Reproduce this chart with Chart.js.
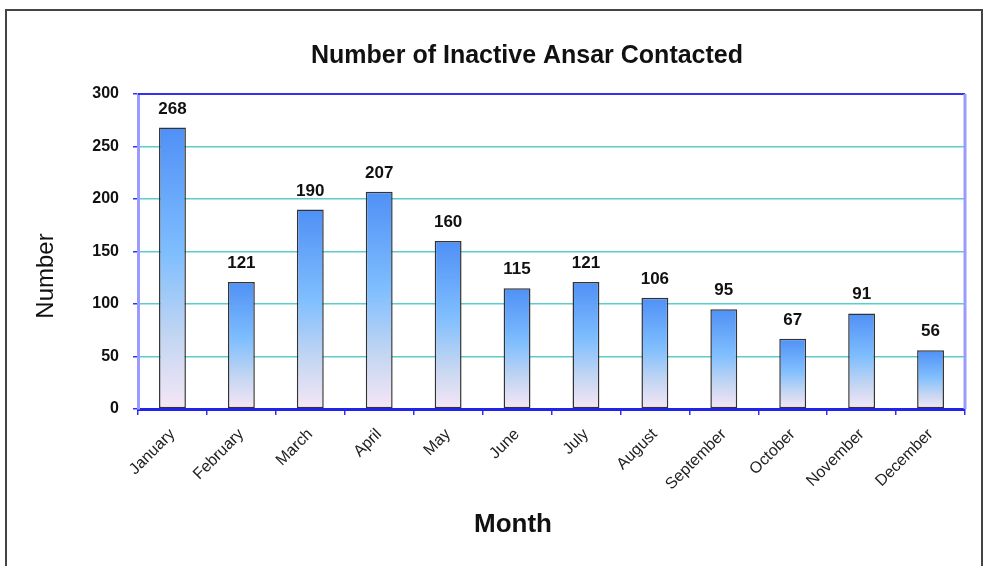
<!DOCTYPE html>
<html>
<head>
<meta charset="utf-8">
<script src="https://cdn.jsdelivr.net/npm/chart.js@4/dist/chart.umd.min.js"></script>
<style>
  html, body { margin: 0; padding: 0; background: #fff; }
  #wrap { width: 987px; height: 566px; }
</style>
</head>
<body>
<div id="wrap"><canvas id="chart" width="987" height="566"></canvas></div>
<script>
const months = ['January', 'February', 'March', 'April', 'May', 'June', 'July',
  'August', 'September', 'October', 'November', 'December'];
const contacted = [268, 121, 190, 207, 160, 115, 121, 106, 95, 67, 91, 56];
const yTicks = [0, 50, 100, 150, 200, 250, 300];

const chartTitle = 'Number of Inactive Ansar Contacted';
const xTitle = 'Month';
const yTitle = 'Number';

const FONT = 'Arial, "Liberation Sans", sans-serif';

// gradient du haut de la barre vers l'axe
function barGradient(context) {
  const chart = context.chart;
  const area = chart.chartArea;
  if (!area) return '#5599ff';
  const y = chart.scales.y;
  const top = y.getPixelForValue(context.raw || 0);
  const bottom = y.getPixelForValue(0);
  const g = chart.ctx.createLinearGradient(0, top, 0, bottom);
  g.addColorStop(0, '#4f90f6');
  g.addColorStop(0.45, '#7fbefe');
  g.addColorStop(0.75, '#c4d6f2');
  g.addColorStop(1, '#f6e6f6');
  return g;
}

const framePlugin = {
  id: 'frame',
  beforeDraw(chart) {
    const ctx = chart.ctx;
    ctx.save();
    ctx.strokeStyle = '#444';
    ctx.lineWidth = 2;
    ctx.strokeRect(6, 10, 976, 600);
    ctx.restore();
  },
  beforeDatasetsDraw(chart) {
    // bordure haute et droite de la zone de tracé
    const a = chart.chartArea;
    const ctx = chart.ctx;
    ctx.save();
    ctx.strokeStyle = '#3333ee';
    ctx.lineWidth = 2;
    ctx.beginPath();
    ctx.moveTo(a.left, a.top);
    ctx.lineTo(a.right, a.top);
    ctx.stroke();
    ctx.strokeStyle = '#9a9aff';
    ctx.lineWidth = 3;
    ctx.beginPath();
    ctx.moveTo(a.right, a.top);
    ctx.lineTo(a.right, a.bottom);
    ctx.stroke();
    ctx.restore();
  },
  afterDraw(chart) {
    const ctx = chart.ctx;
    const meta = chart.getDatasetMeta(0);
    ctx.save();
    ctx.fillStyle = '#111';
    ctx.textAlign = 'center';
    ctx.textBaseline = 'alphabetic';
    ctx.font = 'bold 17px ' + FONT;
    meta.data.forEach((bar, i) => {
      ctx.fillText(String(contacted[i]), bar.x, bar.y - 14);
    });
    // titres
    ctx.textBaseline = 'middle';
    ctx.font = 'bold 25px ' + FONT;
    ctx.fillText(chartTitle, 527, 56);
    ctx.font = 'bold 26px ' + FONT;
    ctx.fillText(xTitle, 513, 525);
    ctx.translate(46, 276);
    ctx.rotate(-Math.PI / 2);
    ctx.font = '24px ' + FONT;
    ctx.fillText(yTitle, 0, 0);
    ctx.restore();
  }
};

new Chart(document.getElementById('chart').getContext('2d'), {
  type: 'bar',
  data: {
    labels: months,
    datasets: [{
      data: contacted,
      backgroundColor: barGradient,
      borderColor: '#333',
      borderWidth: 1.5,
      borderSkipped: false,
      barPercentage: 0.78,
      categoryPercentage: 0.5
    }]
  },
  options: {
    responsive: false,
    animation: false,
    layout: { padding: { left: 80, top: 94, right: 22, bottom: 0 } },
    plugins: {
      legend: { display: false },
      tooltip: { enabled: false }
    },
    scales: {
      x: {
        afterFit(scale) { scale.height = 157; },
        border: { color: '#2222ee', width: 3 },
        grid: {
          offset: true,
          drawOnChartArea: false,
          drawTicks: true,
          tickLength: 6,
          color: '#3333ee',
          lineWidth: 1.5
        },
        ticks: {
          minRotation: 45,
          maxRotation: 45,
          padding: 10,
          color: '#222',
          font: { family: FONT, size: 16 }
        }
      },
      y: {
        min: 0,
        max: 300,
        afterFit(scale) { scale.width = 58; },
        afterBuildTicks(scale) { scale.ticks = yTicks.map(v => ({ value: v })); },
        border: { color: '#9a9aff', width: 3 },
        grid: {
          color: '#5ccccc',
          lineWidth: 1.5,
          drawTicks: true,
          tickLength: 5,
          tickColor: '#3333ee'
        },
        ticks: {
          padding: 14,
          color: '#111',
          font: { family: FONT, size: 16, weight: 'bold' }
        }
      }
    }
  },
  plugins: [framePlugin]
});
</script>
</body>
</html>
